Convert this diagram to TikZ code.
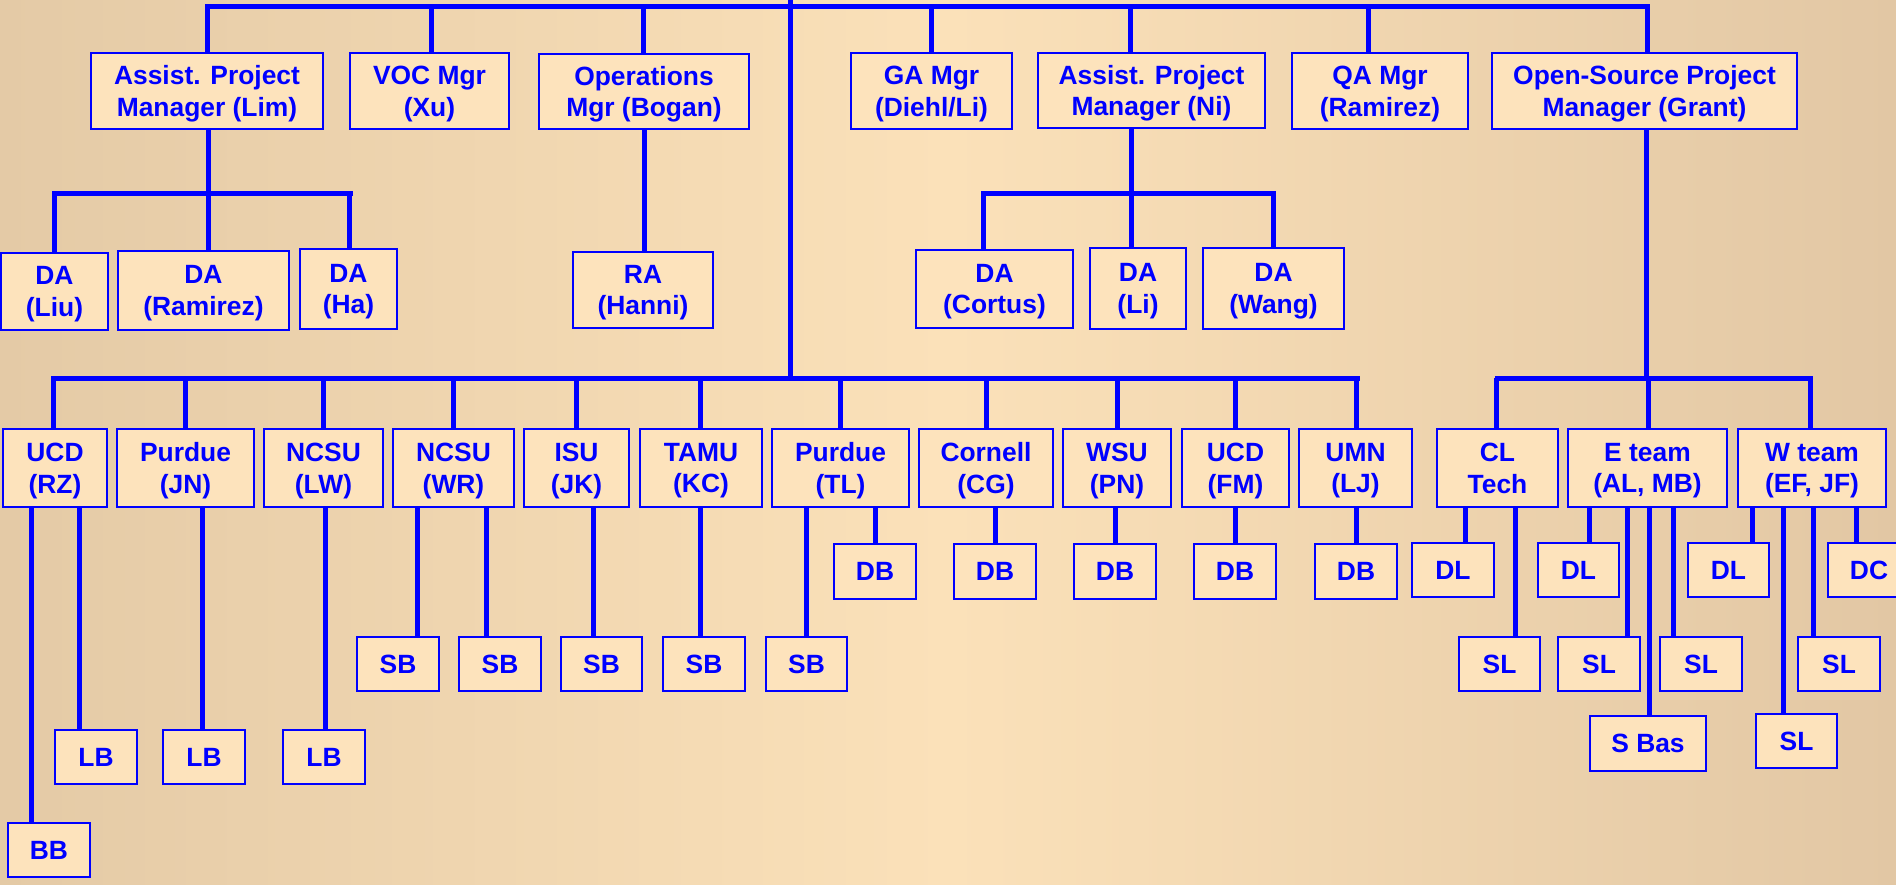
\documentclass[tikz,border=0pt]{standalone}
\usepackage{fontspec}
\setmainfont{Liberation Sans}
\definecolor{bgL}{HTML}{E4CAA6}
\definecolor{bgM}{HTML}{FBE1B9}
\definecolor{bgR}{HTML}{E2C7A4}
\definecolor{boxfill}{HTML}{FDE3BC}
\definecolor{ink}{HTML}{0000FF}
\tikzset{
  box/.style={draw=ink, fill=boxfill, line width=1pt, text=ink,
    font=\fontsize{13.2}{15.9}\selectfont\bfseries, align=center,
    inner sep=0pt, outer sep=0pt, text depth=0pt},
  conn/.style={draw=ink, line width=2.5pt},
  bar/.style={conn, line cap=rect},
}
\newcommand\bx[6]{\node[box, minimum width={(#3-#2)*0.5pt}, minimum height={(#5-#4)*0.5pt}] (#1) at ({(#2+#3)/2},{(#4+#5)/2}) {#6};}
\newcommand\lnk[3]{\coordinate (vx) at (#3,0); \draw[conn] (vx |- #1) -- (vx |- #2);}
\begin{document}
\begin{tikzpicture}[x=0.5pt, y=-0.5pt]
\clip (0,0) rectangle (1896,884);
\shade[left color=bgL, right color=bgR, middle color=bgM] (0,0) rectangle (1896,884);

% ---- top tier
\bx{lim}{91}{323}{53}{129}{Assist. Project\\Manager (Lim)}
\bx{voc}{350}{509}{53}{129}{VOC Mgr\\(Xu)}
\bx{ops}{539}{749}{54}{129}{Operations\\Mgr (Bogan)}
\bx{ga}{851}{1012}{53}{129}{GA Mgr\\(Diehl/Li)}
\bx{ni}{1038}{1265}{53}{128}{Assist. Project\\Manager (Ni)}
\bx{qa}{1292}{1468}{53}{129}{QA Mgr\\(Ramirez)}
\bx{grant}{1492}{1797}{53}{129}{Open-Source Project\\Manager (Grant)}

% ---- DA tier
\bx{liu}{1}{108}{253}{330}{DA\\(Liu)}
\bx{ram}{118}{289}{251}{330}{DA\\(Ramirez)}
\bx{ha}{300}{397}{249}{329}{DA\\(Ha)}
\bx{ra}{573}{713}{252}{328}{RA\\(Hanni)}
\bx{cortus}{916}{1073}{250}{328}{DA\\(Cortus)}
\bx{dali}{1090}{1186}{248}{329}{DA\\(Li)}
\bx{wang}{1203}{1344}{248}{329}{DA\\(Wang)}

% ---- second tier
\bx{ucdrz}{3}{107}{429}{507}{UCD\\(RZ)}
\bx{purjn}{117}{254}{429}{507}{Purdue\\(JN)}
\bx{ncsulw}{264}{383}{429}{507}{NCSU\\(LW)}
\bx{ncsuwr}{393}{514}{429}{507}{NCSU\\(WR)}
\bx{isu}{524}{629}{429}{507}{ISU\\(JK)}
\bx{tamu}{640}{762}{429}{507}{TAMU\\(KC)}
\bx{purtl}{772}{909}{429}{507}{Purdue\\(TL)}
\bx{cornell}{919}{1053}{429}{507}{Cornell\\(CG)}
\bx{wsu}{1063}{1171}{429}{507}{WSU\\(PN)}
\bx{ucdfm}{1182}{1289}{429}{507}{UCD\\(FM)}
\bx{umn}{1299}{1412}{429}{507}{UMN\\(LJ)}
\bx{cltech}{1437}{1558}{429}{507}{CL\\Tech}
\bx{eteam}{1568}{1727}{429}{507}{E team\\(AL, MB)}
\bx{wteam}{1738}{1886}{429}{507}{W team\\(EF, JF)}

% ---- leaves
\bx{bb}{8}{90}{823}{877}{BB}
\bx{lb1}{55}{137}{730}{784}{LB}
\bx{lb2}{163}{245}{730}{784}{LB}
\bx{lb3}{283}{365}{730}{784}{LB}
\bx{sb1}{357}{439}{637}{691}{SB}
\bx{sb2}{459}{541}{637}{691}{SB}
\bx{sb3}{561}{642}{637}{691}{SB}
\bx{sb4}{663}{745}{637}{691}{SB}
\bx{sb5}{766}{847}{637}{691}{SB}
\bx{db1}{834}{916}{544}{599}{DB}
\bx{db2}{954}{1036}{544}{599}{DB}
\bx{db3}{1074}{1156}{544}{599}{DB}
\bx{db4}{1194}{1276}{544}{599}{DB}
\bx{db5}{1315}{1397}{544}{599}{DB}
\bx{dl1}{1412}{1494}{543}{597}{DL}
\bx{sl1}{1459}{1540}{637}{691}{SL}
\bx{dl2}{1538}{1619}{543}{597}{DL}
\bx{sl2}{1558}{1640}{637}{691}{SL}
\bx{sbas}{1590}{1706}{716}{771}{S Bas}
\bx{sl3}{1660}{1742}{637}{691}{SL}
\bx{dl3}{1688}{1769}{543}{597}{DL}
\bx{sl4}{1756}{1837}{714}{768}{SL}
\bx{sl5}{1798}{1880}{637}{691}{SL}
\bx{dc}{1828}{1910}{543}{597}{DC}

% ---- bars
\coordinate (tl) at (207,6.5);
\coordinate (tr) at (1647,6.5);
\coordinate (trunk) at (790,0);
\coordinate (bl) at (53,378);
\coordinate (br) at (1357,378);
\coordinate (rl) at (1497,378);
\coordinate (rr) at (1810,378);
\coordinate (liml) at (54,193);
\coordinate (limr) at (350,193);
\coordinate (nil) at (983,193);
\coordinate (nir) at (1273,193);
\draw[bar] (tl) -- (tr);
\draw[bar] (bl) -- (br);
\draw[bar] (rl) -- (rr);
\draw[bar] (liml) -- (limr);
\draw[bar] (nil) -- (nir);
\draw[conn] (trunk) -- (trunk |- bl);

% ---- top tier links
\lnk{tl}{lim.north}{207}
\lnk{tl}{voc.north}{431}
\lnk{tl}{ops.north}{643}
\lnk{tl}{ga.north}{931}
\lnk{tl}{ni.north}{1130}
\lnk{tl}{qa.north}{1368}
\lnk{tl}{grant.north}{1647}

% ---- DA links
\lnk{lim.south}{liml}{208}
\lnk{liml}{liu.north}{54}
\lnk{liml}{ram.north}{208}
\lnk{liml}{ha.north}{349}
\lnk{ops.south}{ra.north}{644}
\lnk{ni.south}{nil}{1131}
\lnk{nil}{cortus.north}{983}
\lnk{nil}{dali.north}{1131}
\lnk{nil}{wang.north}{1273}

% ---- second tier links
\lnk{bl}{ucdrz.north}{53}
\lnk{bl}{purjn.north}{185}
\lnk{bl}{ncsulw.north}{323}
\lnk{bl}{ncsuwr.north}{453}
\lnk{bl}{isu.north}{576}
\lnk{bl}{tamu.north}{700}
\lnk{bl}{purtl.north}{840}
\lnk{bl}{cornell.north}{986}
\lnk{bl}{wsu.north}{1117}
\lnk{bl}{ucdfm.north}{1235}
\lnk{bl}{umn.north}{1356}
\lnk{grant.south}{rl}{1646}
\lnk{rl}{cltech.north}{1496}
\lnk{rl}{eteam.north}{1648}
\lnk{rl}{wteam.north}{1810}

% ---- leaf links
\lnk{ucdrz.south}{bb.north}{31}
\lnk{ucdrz.south}{lb1.north}{79}
\lnk{purjn.south}{lb2.north}{202}
\lnk{ncsulw.south}{lb3.north}{325}
\lnk{ncsuwr.south}{sb1.north}{417}
\lnk{ncsuwr.south}{sb2.north}{486}
\lnk{isu.south}{sb3.north}{593}
\lnk{tamu.south}{sb4.north}{700}
\lnk{purtl.south}{sb5.north}{806}
\lnk{purtl.south}{db1.north}{875}
\lnk{cornell.south}{db2.north}{995}
\lnk{wsu.south}{db3.north}{1115}
\lnk{ucdfm.south}{db4.north}{1235}
\lnk{umn.south}{db5.north}{1356}
\lnk{cltech.south}{dl1.north}{1465}
\lnk{cltech.south}{sl1.north}{1515}
\lnk{eteam.south}{dl2.north}{1589}
\lnk{eteam.south}{sl2.north}{1627}
\lnk{eteam.south}{sbas.north}{1649}
\lnk{eteam.south}{sl3.north}{1673}
\lnk{wteam.south}{dl3.north}{1752}
\lnk{wteam.south}{sl4.north}{1783}
\lnk{wteam.south}{sl5.north}{1813}
\lnk{wteam.south}{dc.north}{1856}
\end{tikzpicture}
\end{document}
